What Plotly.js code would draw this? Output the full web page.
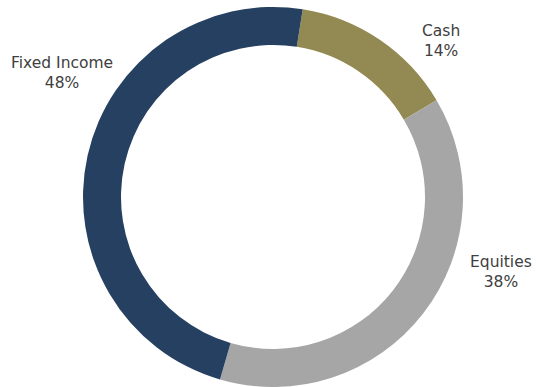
<!DOCTYPE html>
<html>
<head>
<meta charset="utf-8">
<script src="https://cdn.plot.ly/plotly-3.0.1.min.js"></script>
<style>html,body{margin:0;padding:0;background:#fff;}#chart{width:536px;height:387px;}</style>
</head>
<body>
<div id="chart"></div>
<script>
const categories = ["Cash", "Equities", "Fixed Income"];
const values = [14, 38, 48];
const colors = ["#938953", "#A6A6A6", "#264061"];
// label anchor positions (pixels in the 536x387 canvas)
const labelPosX = [441, 501, 62];
const labelPosY = [41, 272, 72.5];

const W = 536, H = 387;
const total = values.reduce((a, b) => a + b, 0);

const annotations = categories.map((c, i) => ({
  text: c + "<br>" + Math.round(values[i] / total * 100) + "%",
  x: labelPosX[i] / W,
  y: 1 - labelPosY[i] / H,
  xref: "paper", yref: "paper",
  xanchor: "center", yanchor: "middle",
  showarrow: false,
  align: "center",
  font: {family: "DejaVu Sans", size: 15.5, color: "#404040"}
}));

Plotly.newPlot("chart", [{
  type: "pie",
  labels: categories,
  values: values,
  sort: false,
  direction: "clockwise",
  rotation: 9,
  hole: 0.8,
  textinfo: "none",
  hoverinfo: "label+percent",
  marker: {colors: colors, line: {width: 0}},
  domain: {x: [83 / W, 463 / W], y: [0, 380 / H]}
}], {
  width: W, height: H,
  margin: {l: 0, r: 0, t: 0, b: 0},
  showlegend: false,
  paper_bgcolor: "#ffffff",
  annotations: annotations
}, {displayModeBar: false, staticPlot: true});
</script>
</body>
</html>
